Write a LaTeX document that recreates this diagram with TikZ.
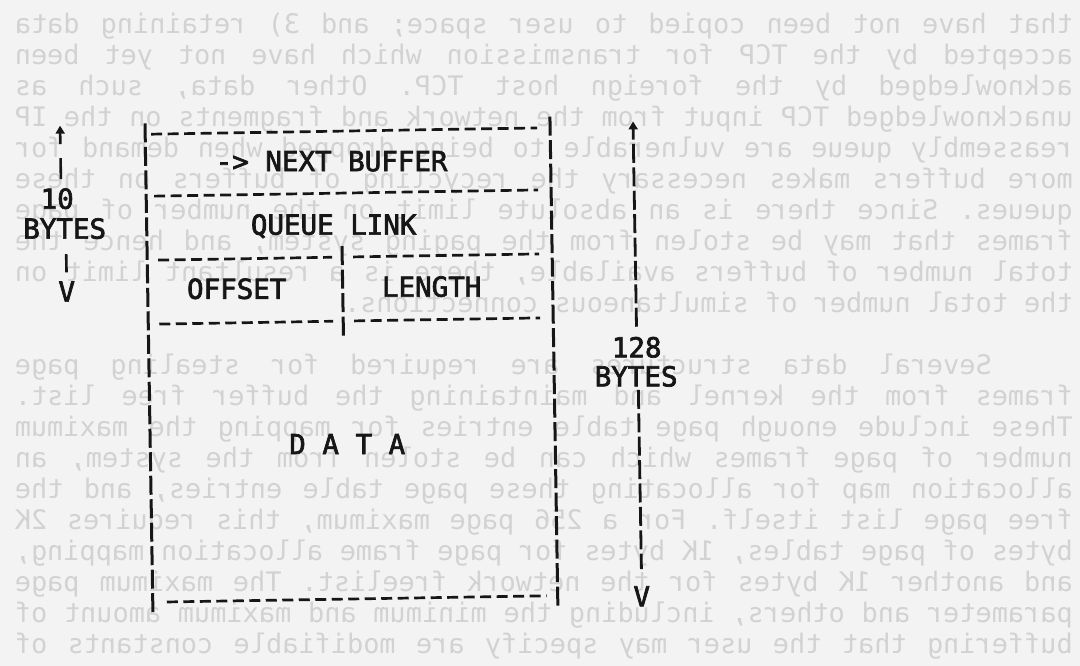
\documentclass[tikz,border=0pt]{standalone}
\usepackage{fontspec}
\newfontfamily\typefont{DejaVu Sans Mono}
\newfontfamily\inkfont{DejaVu Sans Mono}[FakeBold=2.5]
\usetikzlibrary{arrows.meta}
\definecolor{paper}{RGB}{243,243,243}
\definecolor{ghost}{RGB}{210,210,210}
\definecolor{ink}{RGB}{22,22,22}
\newcommand\jline[1]{\hbox to 1058pt{\frenchspacing\spaceskip=16.2pt plus 1fil\relax #1}}
\newcommand\nline[1]{\hbox{\frenchspacing #1}}
\begin{document}
\begin{tikzpicture}[x=1pt,y=-1pt,
  hdash/.style={draw=ink, line width=2.7pt, dash pattern=on 11pt off 5.5pt},
  vdash/.style={draw=ink, line width=3pt, dash pattern=on 19pt off 4.5pt},
  lbl/.style={text=ink, font=\inkfont\fontsize{27.5}{28}\selectfont, inner sep=0pt},
  ghostline/.style={text=ghost, font=\typefont\fontsize{26.9}{28}\selectfont, inner sep=0pt, xscale=-1, anchor=base west},
  uptip/.style={-{Triangle[length=8pt,width=9pt]}},
]
\fill[paper] (0,0) rectangle (1080,666);
\useasboundingbox (0,0) rectangle (1080,666);

% faint mirrored show-through text of the reverse page
\begin{scope}
\clip (0,0) rectangle (1080,666);
\node[ghostline] (g0) at (1073,33.4) {\jline{that have not been copied to user space; and 3) retaining data}};
\node[ghostline] (g1) at (1073,64.4) {\jline{accepted by the TCP for transmission which have not yet been}};
\node[ghostline] (g2) at (1073,95.4) {\jline{acknowledged by the foreign host TCP. Other data, such as}};
\node[ghostline] (g3) at (1073,126.4) {\jline{unacknowledged TCP input from the network and fragments on the IP}};
\node[ghostline] (g4) at (1073,157.4) {\jline{reassembly queue are vulnerable to being dropped when demand for}};
\node[ghostline] (g5) at (1073,188.4) {\jline{more buffers makes necessary the recycling of buffers on these}};
\node[ghostline] (g6) at (1073,219.4) {\jline{queues. Since there is an absolute limit on the number of page}};
\node[ghostline] (g7) at (1073,250.4) {\jline{frames that may be stolen from the paging system, and hence the}};
\node[ghostline] (g8) at (1073,281.4) {\jline{total number of buffers available, there is a resultant limit on}};
\node[ghostline] (g9) at (1073,312.4) {\nline{the total number of simultaneous connections.}};
\node[ghostline] (g11) at (1073,374.4) {\jline{\hspace*{81pt}Several data structures are required for stealing page}};
\node[ghostline] (g12) at (1073,405.4) {\jline{frames from the kernel and maintaining the buffer free list.}};
\node[ghostline] (g13) at (1073,436.4) {\jline{These include enough page table entries for mapping the maximum}};
\node[ghostline] (g14) at (1073,467.4) {\jline{number of page frames which can be stolen from the system, an}};
\node[ghostline] (g15) at (1073,498.4) {\jline{allocation map for allocating these page table entries, and the}};
\node[ghostline] (g16) at (1073,529.4) {\jline{free page list itself. For a 256 page maximum, this requires 2K}};
\node[ghostline] (g17) at (1073,560.4) {\jline{bytes of page tables, 1K bytes for page frame allocation mapping,}};
\node[ghostline] (g18) at (1073,591.4) {\jline{and another 1K bytes for the network freelist. The maximum page}};
\node[ghostline] (g19) at (1073,622.4) {\jline{parameter and others, including the minimum and maximum amount of}};
\node[ghostline] (g20) at (1073,653.4) {\jline{buffering that the user may specify are modifiable constants of}};
\end{scope}

% the typed buffer diagram (slightly skewed on the page)
\begin{scope}[rotate around={0.93:(350,368)}]
\coordinate (tl) at (149,120);
\coordinate (bl) at (149,613);
\coordinate (tr) at (554,120);
\coordinate (br) at (554,613);
\draw[vdash] (tl) -- (bl);
\draw[vdash] (tr) -- (br);

\coordinate (h0a) at (155,131); \coordinate (h0b) at (541,131);
\coordinate (h1a) at (157,193); \coordinate (h1b) at (541,193);
\coordinate (h2a) at (160,257); \coordinate (h2m) at (334,257);
\coordinate (h2n) at (355,257); \coordinate (h2b) at (541,257);
\coordinate (h3a) at (160,321); \coordinate (h3m) at (334,321);
\coordinate (h3n) at (355,321); \coordinate (h3b) at (541,321);
\coordinate (h4a) at (163,599); \coordinate (h4b) at (543,599);
\coordinate (dvt) at (344,246); \coordinate (dvb) at (344,338);

\draw[hdash] (h0a) -- (h0b);
\draw[hdash] (h1a) -- (h1b);
\draw[hdash] (h2a) -- (h2m);
\draw[hdash] (h2n) -- (h2b);
\draw[hdash] (h3a) -- (h3m);
\draw[hdash] (h3n) -- (h3b);
\draw[hdash] (h4a) -- (h4b);
\draw[vdash] (dvt) -- (dvb);

\node[lbl] (nb) at (335,161) {-> NEXT BUFFER};
\node[lbl] (ql) at (336,226) {QUEUE LINK};
\node[lbl] (off) at (238,287) {OFFSET};
\node[lbl] (len) at (433,288) {LENGTH};
\node[lbl] (data) at (346,444) {D A T A};

% left dimension: 10 BYTES
\coordinate (ltip) at (64,121);
\node[lbl] (lten) at (60,194) {10};
\node[lbl] (lbytes) at (67,224) {BYTES};
\node[lbl] (lv) at (68,287) {V};
\draw[ink, line width=2.6pt, dash pattern=on 21pt off 14pt, shorten <=9pt, uptip]
  (lten.north -| ltip) -- (ltip);
\draw[ink, line width=2.6pt, shorten <=15pt, shorten >=9pt]
  (lbytes.south -| lv) -- (lv.north);

% right dimension: 128 BYTES
\coordinate (rtip) at (637,126);
\node[lbl] (r128) at (637,352) {128};
\node[lbl] (rbytes) at (636,381) {BYTES};
\node[lbl] (rv) at (638,601) {V};
\draw[ink, line width=2.8pt, dash pattern=on 19pt off 4.4pt, shorten <=10pt, uptip]
  (r128.north) -- (rtip);
\draw[ink, line width=2.8pt, dash pattern=on 19pt off 4.4pt, shorten <=3pt, shorten >=17pt]
  (rbytes.south -| rv) -- (rv.north);
\end{scope}
\end{tikzpicture}
\end{document}
